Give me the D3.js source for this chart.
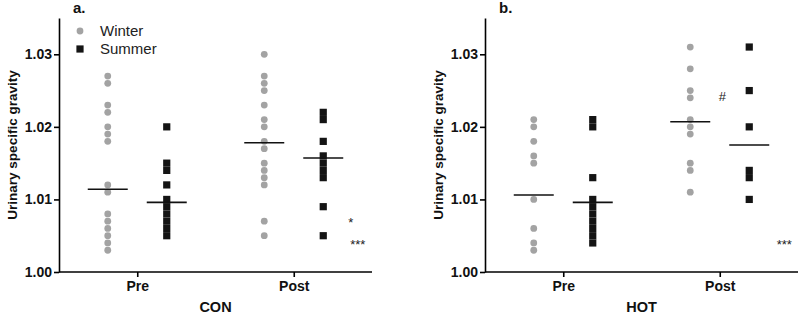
<!DOCTYPE html>
<html>
<head>
<meta charset="utf-8">
<script src="https://cdn.jsdelivr.net/npm/d3@7"></script>
<style>
  body { margin: 0; background: #fff; }
  svg, svg text { font-family: 'Liberation Sans', Arial, sans-serif; }
</style>
</head>
<body>
<svg width="800" height="315"></svg>
<script>
const svg = d3.select('svg');

const times = ['Pre', 'Post'];
const seasons = ['Winter', 'Summer'];
const yTicks = [1.00, 1.01, 1.02, 1.03];

// CON panel values
const conWinterPre = [1.027, 1.026, 1.023, 1.022, 1.020, 1.019, 1.018, 1.012, 1.011, 1.008, 1.007, 1.006, 1.005, 1.004, 1.003];
const conSummerPre = [1.020, 1.015, 1.014, 1.012, 1.010, 1.009, 1.008, 1.007, 1.006, 1.005];
const conWinterPost = [1.030, 1.027, 1.026, 1.025, 1.023, 1.021, 1.020, 1.018, 1.017, 1.015, 1.014, 1.013, 1.012, 1.007, 1.005];
const conSummerPost = [1.022, 1.021, 1.018, 1.016, 1.015, 1.014, 1.013, 1.009, 1.005];
const conMedians = [1.0114, 1.0096, 1.0178, 1.0157]; // winter pre, summer pre, winter post, summer post

// HOT panel values
const hotWinterPre = [1.021, 1.020, 1.018, 1.016, 1.015, 1.010, 1.006, 1.004, 1.003];
const hotSummerPre = [1.021, 1.020, 1.013, 1.010, 1.009, 1.008, 1.007, 1.006, 1.005, 1.004];
const hotWinterPost = [1.031, 1.028, 1.025, 1.024, 1.021, 1.020, 1.019, 1.015, 1.014, 1.011];
const hotSummerPost = [1.031, 1.025, 1.020, 1.014, 1.013, 1.010];
const hotMedians = [1.0106, 1.0096, 1.0207, 1.0175];

const GREY = '#a3a3a3';
const BLACK = '#141414';
const FONT = "'Liberation Sans', Arial, sans-serif";

function drawPanel(left, right, label, groupName, sets, medians, notes) {
  const top = 18, bottom = 272;
  const g = svg.append('g');

  const y = d3.scaleLinear().domain([1.0, 1.035]).range([bottom, top]);
  const x = d3.scalePoint().domain(times).range([left, right]).padding(0.5);
  const off = d3.scalePoint().domain(seasons).range([-29.5, 29.5]);

  // points
  sets.forEach(s => {
    const cx = x(s.time) + off(s.season);
    if (s.season === 'Winter') {
      g.selectAll(null).data(s.values).enter().append('circle')
        .attr('cx', cx).attr('cy', d => y(d)).attr('r', 3.4)
        .attr('fill', GREY);
    } else {
      g.selectAll(null).data(s.values).enter().append('rect')
        .attr('x', cx - 3.6).attr('y', d => y(d) - 3.6)
        .attr('width', 7.2).attr('height', 7.2)
        .attr('fill', BLACK);
    }
  });

  // median lines
  sets.forEach((s, i) => {
    const cx = x(s.time) + off(s.season);
    g.append('line')
      .attr('x1', cx - 20).attr('x2', cx + 20)
      .attr('y1', y(medians[i])).attr('y2', y(medians[i]))
      .attr('stroke', '#111').attr('stroke-width', 1.6);
  });

  // axes
  const yAxis = d3.axisLeft(y).tickValues(yTicks).tickFormat(d3.format('.2f'))
    .tickSize(5).tickSizeOuter(0).tickPadding(2);
  const yAxisG = g.append('g').attr('transform', `translate(${left}, 0)`).call(yAxis);

  const xAxis = d3.axisBottom(x).tickSize(5).tickSizeOuter(0).tickPadding(4);
  const xAxisG = g.append('g').attr('transform', `translate(0, ${bottom})`).call(xAxis);
  xAxisG.select('.domain').attr('d', `M${left},0H${right}`);

  [yAxisG, xAxisG].forEach(a => {
    a.attr('font-family', FONT);
    a.selectAll('path, line').attr('stroke', '#000').attr('stroke-width', 1.6);
    a.selectAll('text').attr('font-size', 14).attr('font-weight', 'bold')
      .attr('fill', '#111');
  });

  // axis titles
  g.append('text')
    .attr('transform', `translate(${left - 47}, ${(top + bottom) / 2}) rotate(-90)`)
    .attr('text-anchor', 'middle').attr('dy', '0.35em')
    .attr('font-size', 13.5).attr('font-weight', 'bold').attr('fill', '#111')
    .text('Urinary specific gravity');

  g.append('text')
    .attr('x', (left + right) / 2).attr('y', 312)
    .attr('text-anchor', 'middle')
    .attr('font-size', 14.5).attr('font-weight', 'bold').attr('fill', '#111')
    .text(groupName);

  g.append('text')
    .attr('x', left + 14).attr('y', 13)
    .attr('font-size', 15).attr('font-weight', 'bold').attr('fill', '#111')
    .text(label);

  notes.forEach(n => {
    g.append('text')
      .attr('x', x(n.time) + n.dx).attr('y', y(n.v))
      .attr('text-anchor', 'middle').attr('dy', '0.7em')
      .attr('font-size', 13).attr('fill', '#222')
      .text(n.t);
  });

  return { x, y };
}

drawPanel(59, 372, 'a.', 'CON', [
  { time: 'Pre', season: 'Winter', values: conWinterPre },
  { time: 'Pre', season: 'Summer', values: conSummerPre },
  { time: 'Post', season: 'Winter', values: conWinterPost },
  { time: 'Post', season: 'Summer', values: conSummerPost }
], conMedians, [
  { time: 'Post', dx: 57, v: 1.0074, t: '*' },
  { time: 'Post', dx: 64, v: 1.0044, t: '***' }
]);

drawPanel(485, 798, 'b.', 'HOT', [
  { time: 'Pre', season: 'Winter', values: hotWinterPre },
  { time: 'Pre', season: 'Summer', values: hotSummerPre },
  { time: 'Post', season: 'Winter', values: hotWinterPost },
  { time: 'Post', season: 'Summer', values: hotSummerPost }
], hotMedians, [
  { time: 'Post', dx: 2.5, v: 1.0248, t: '#' },
  { time: 'Post', dx: 64.5, v: 1.0044, t: '***' }
]);

// legend
const legend = svg.append('g').attr('transform', 'translate(80, 0)');
legend.append('circle').attr('cx', 0).attr('cy', 31).attr('r', 3.4).attr('fill', GREY);
legend.append('rect').attr('x', -3.6).attr('y', 45.4).attr('width', 7.2).attr('height', 7.2).attr('fill', BLACK);
legend.append('text').attr('x', 20).attr('y', 31).attr('dy', '0.35em')
  .attr('font-size', 15).attr('fill', '#222').text('Winter');
legend.append('text').attr('x', 20).attr('y', 49).attr('dy', '0.35em')
  .attr('font-size', 15).attr('fill', '#222').text('Summer');
</script>
</body>
</html>
